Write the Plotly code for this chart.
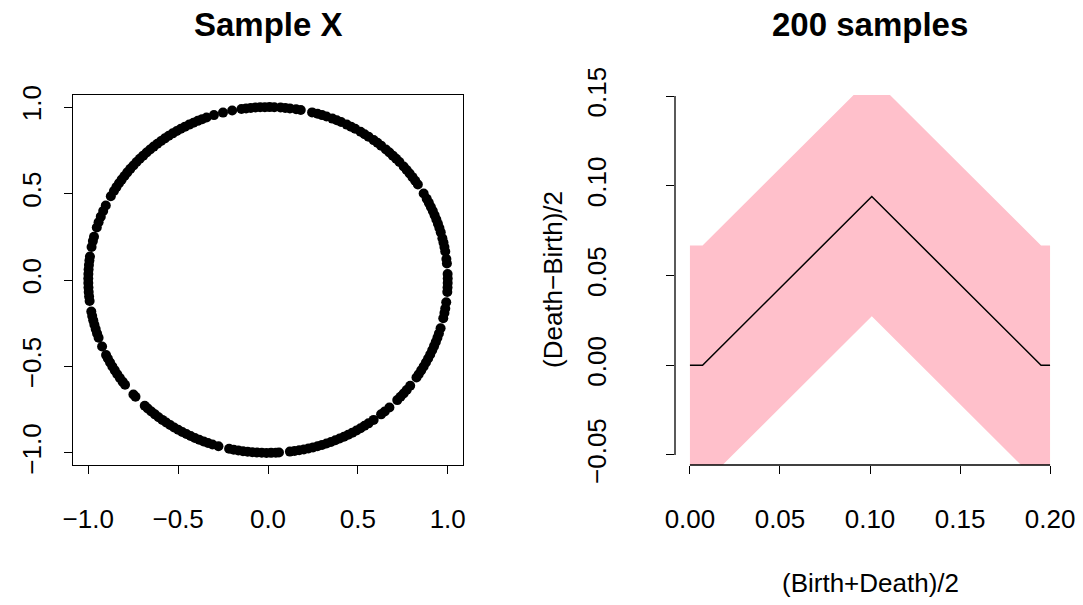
import numpy as np
import plotly.graph_objects as go

# ---- data: sample X (angles of points on the unit circle, degrees) ----
sample_angles_deg = [
    -4, -2.5, -1, 0.5, 2,
    5.5, 7, 9.5, 11, 12.5, 14, 16, 17.5, 19, 20.5, 22, 23.5, 25, 26.5, 28, 30,
    33.5, 35, 36.5, 38, 39.5, 41, 43, 44.5, 46, 47.5, 49, 51, 52.5, 54, 56, 57.5,
    59, 61, 62.5, 64, 66, 67.5, 69, 71, 72.5, 74, 75.8,
    79.5, 81, 83, 84.5, 86, 88, 89.5, 91, 92.5, 94, 95.5, 97, 98.5,
    101.5, 104.5, 107.5, 110,
    111.5, 113, 114.5, 116, 117.5, 119, 120.5, 122, 123.5, 125, 126.5, 128, 129.5,
    131, 132.5, 134, 135.5, 137, 138.5, 140, 141.5, 143, 144.5, 146, 147.5, 149, 151,
    154.5, 156.5, 158.5, 160.5, 162.3,
    165.5, 167, 169,
    172.2, 173.5, 175, 176.5, 178, 179.5, 181, 182.5, 184, 185.5, 187,
    190.5, 192, 193.5, 195, 196.5, 198, 199.5,
    202.6,
    205.7, 207, 208.5, 210, 211.5, 213, 214.5, 216, 217.3,
    221.5, 222.5,
    226.7, 228, 229.5, 231, 232.5, 234, 235.5, 237, 238.5, 240, 241.5, 243, 244.5,
    246, 247.5, 249, 250.5, 252, 254,
    257.5, 259, 260.5, 262, 263.5, 265, 266.5, 268, 269.5, 271, 272.5, 273.5,
    277, 278.5, 280, 281.5, 283, 284.5, 286, 287.5, 289, 290.5, 292, 293.5, 295,
    296.5, 298, 299.5, 301, 302.5, 304, 306,
    309, 310.5, 312.5,
    316, 317.5, 319, 320.5, 322.3,
    325.7, 327, 328.5, 330, 331.5, 333, 334.5, 336, 337.5, 339, 340.5, 342, 343.8,
    347.2, 349, 350.5, 352.6,
]

# ---- data: landscape and confidence band ----
tseq = [0.0, 0.007, 0.101, 0.195, 0.2]
landscape = [0.0, 0.0, 0.094, 0.0, 0.0]
band_lower = [-0.0667, -0.0667, 0.0273, -0.0667, -0.0667]
band_upper = [0.0667, 0.0667, 0.1607, 0.0667, 0.0667]

left_ticks = [-1.0, -0.5, 0.0, 0.5, 1.0]
right_xticks = [0.00, 0.05, 0.10, 0.15, 0.20]
right_yticks = [-0.05, 0.00, 0.05, 0.10, 0.15]

theta = np.deg2rad(sample_angles_deg)
cx = np.cos(theta)
cy = np.sin(theta)

FONT = "Liberation Sans, Arial, Helvetica, sans-serif"
W, H = 1083, 605

fig = go.Figure()

fig.add_trace(go.Scatter(
    x=cx, y=cy, mode="markers",
    marker=dict(color="black", size=10, line=dict(width=0)),
    xaxis="x", yaxis="y", showlegend=False, hoverinfo="skip",
))

fig.add_trace(go.Scatter(
    x=tseq, y=band_lower, mode="lines", line=dict(width=0, color="pink"),
    xaxis="x2", yaxis="y2", showlegend=False, hoverinfo="skip",
))
fig.add_trace(go.Scatter(
    x=tseq, y=band_upper, mode="lines", line=dict(width=0, color="pink"),
    fill="tonexty", fillcolor="#FFC0CB",
    xaxis="x2", yaxis="y2", showlegend=False, hoverinfo="skip",
))
fig.add_trace(go.Scatter(
    x=tseq, y=landscape, mode="lines", line=dict(width=1.5, color="black"),
    xaxis="x2", yaxis="y2", showlegend=False, hoverinfo="skip",
))

left_dom_x = [73 / W, 463 / W]
right_dom_x = [675 / W, 1065 / W]
dom_y = [1 - 465 / H, 1 - 95 / H]

common = dict(
    showgrid=False, zeroline=False, ticks="outside", ticklen=8, tickwidth=1.3,
    tickcolor="black", tickfont=dict(family=FONT, size=26, color="black"),
    automargin=False,
)

fig.update_layout(
    template="none",
    width=W, height=H,
    margin=dict(l=0, r=0, t=0, b=0, pad=0),
    paper_bgcolor="white", plot_bgcolor="white",
    font=dict(family=FONT, color="black"),
    xaxis=dict(domain=left_dom_x, range=[-1.085, 1.085], tickvals=left_ticks,
               tickformat=".1f", showline=True, mirror=True, linecolor="black",
               linewidth=1.3, anchor="y", ticklabelstandoff=23, **common),
    yaxis=dict(domain=dom_y, range=[-1.07, 1.07], tickvals=left_ticks,
               tickformat=".1f", showline=True, mirror=True, linecolor="black",
               linewidth=1.3, anchor="x", tickangle=-90, ticklabelstandoff=12,
               **common),
    xaxis2=dict(domain=right_dom_x, range=[-0.0083, 0.2083], tickvals=right_xticks,
                tickformat=".2f", showline=False, anchor="y2",
                ticklabelstandoff=23, **common),
    yaxis2=dict(domain=dom_y, range=[-0.0556, 0.1506], tickvals=right_yticks,
                tickformat=".2f", showline=False, anchor="x2", tickangle=-90,
                ticklabelstandoff=50, **common),
)

# axis lines spanning only the tick range (R style)
fig.add_shape(type="line", xref="x2", yref="y2 domain", x0=0.0, x1=0.2, y0=0, y1=0,
              line=dict(color="black", width=1.3))
fig.add_shape(type="line", xref="x2 domain", yref="y2", x0=0, x1=0, y0=-0.05, y1=0.15,
              line=dict(color="black", width=1.3))

fig.add_annotation(text="<b>Sample X</b>", xref="paper", yref="paper",
                   x=sum(left_dom_x) / 2, y=1 - 25 / H, showarrow=False,
                   font=dict(family=FONT, size=33, color="black"),
                   xanchor="center", yanchor="middle")
fig.add_annotation(text="<b>200 samples</b>", xref="paper", yref="paper",
                   x=sum(right_dom_x) / 2, y=1 - 25 / H, showarrow=False,
                   font=dict(family=FONT, size=33, color="black"),
                   xanchor="center", yanchor="middle")
fig.add_annotation(text="(Birth+Death)/2", xref="paper", yref="paper",
                   x=sum(right_dom_x) / 2, y=1 - 583 / H, showarrow=False,
                   font=dict(family=FONT, size=26, color="black"),
                   xanchor="center", yanchor="middle")
fig.add_annotation(text="(Death\u2212Birth)/2", xref="paper", yref="paper",
                   x=553 / W, y=1 - 280 / H, showarrow=False, textangle=-90,
                   font=dict(family=FONT, size=26, color="black"),
                   xanchor="center", yanchor="middle")

fig.write_html("out.html")
